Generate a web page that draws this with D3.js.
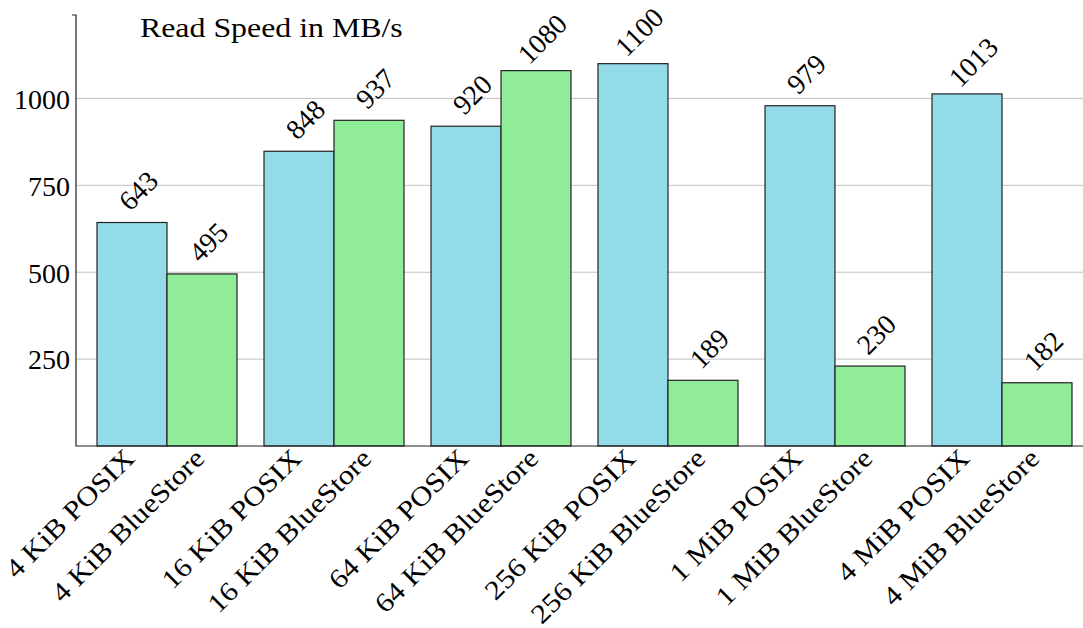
<!DOCTYPE html>
<html><head><meta charset="utf-8">
<script src="https://cdn.jsdelivr.net/npm/d3@7"></script>
<style>body{margin:0;background:#fff}svg{display:block}text{font-family:"Liberation Serif",serif;fill:#000}</style>
</head><body><svg id="c" width="1083" height="628"></svg>
<script>
const groups = ["4 KiB","16 KiB","64 KiB","256 KiB","1 MiB","4 MiB"];
const seriesNames = ["POSIX","BlueStore"];
const posix = [643, 848, 920, 1100, 979, 1013];
const bluestore = [495, 937, 1080, 189, 230, 182];
const yTicks = [250, 500, 750, 1000];
const title = "Read Speed in MB/s";
const colors = {POSIX:"#93dbe9", BlueStore:"#90ec99"};

const svg = d3.select("#c");
const x0 = 76, yBottom = 446, yTop = 15, xRight = 1083;
const y = d3.scaleLinear().domain([0, 1240]).range([yBottom, yTop]);
const gx = d3.scaleBand().domain(groups).range([83.5, 1085.5]).paddingInner(27/167).paddingOuter(27/334);
const sx = d3.scaleBand().domain(seriesNames).range([0, gx.bandwidth()]);
const FS = 27;

// grid
svg.append("g").selectAll("line").data(yTicks).join("line")
  .attr("x1", x0).attr("x2", xRight).attr("y1", d=>y(d)).attr("y2", d=>y(d))
  .attr("stroke", "#c0c0c0").attr("stroke-width", 1);

const data = [];
groups.forEach((g,i)=>{ data.push({g, s:"POSIX", v:posix[i]}); data.push({g, s:"BlueStore", v:bluestore[i]}); });

svg.append("g").selectAll("rect").data(data).join("rect")
  .attr("x", d=>gx(d.g)+sx(d.s)).attr("width", sx.bandwidth())
  .attr("y", d=>y(d.v)).attr("height", d=>yBottom - y(d.v))
  .attr("fill", d=>colors[d.s]).attr("stroke", "#222").attr("stroke-width", 1.2);

// value labels
svg.append("g").selectAll("text").data(data).join("text")
  .attr("transform", d=>`translate(${gx(d.g)+sx(d.s)+sx.bandwidth()/2+13},${y(d.v)-25}) rotate(-45)`)
  .attr("text-anchor","middle").attr("font-size", 28).text(d=>d.v);

// x labels
svg.append("g").selectAll("text").data(data).join("text")
  .attr("transform", d=>`translate(${gx(d.g)+sx(d.s)+sx.bandwidth()/2+4},${yBottom+14}) rotate(-45) scale(1.13,1)`)
  .attr("text-anchor","end").attr("font-size", FS).text(d=>d.g+" "+d.s);

// axes
const yAxis = d3.axisLeft(y).tickValues(yTicks).tickSize(0).tickPadding(6).tickFormat(d3.format("d"));
const ya = svg.append("g").attr("transform", `translate(${x0},0)`).call(yAxis);
ya.select(".domain").remove();
ya.selectAll("text").attr("font-size", 28).attr("font-family", '"Liberation Serif",serif').attr("fill","#000").attr("dy","0.35em");
svg.append("path").attr("d", `M${x0-4},${yTop}H${x0}V${yBottom}H${xRight}`).attr("fill","none").attr("stroke","#222").attr("stroke-width",1.2);

svg.append("text").attr("transform", "translate(140,37) scale(1.18,1)").attr("font-size", FS).text(title);
</script></body></html>
